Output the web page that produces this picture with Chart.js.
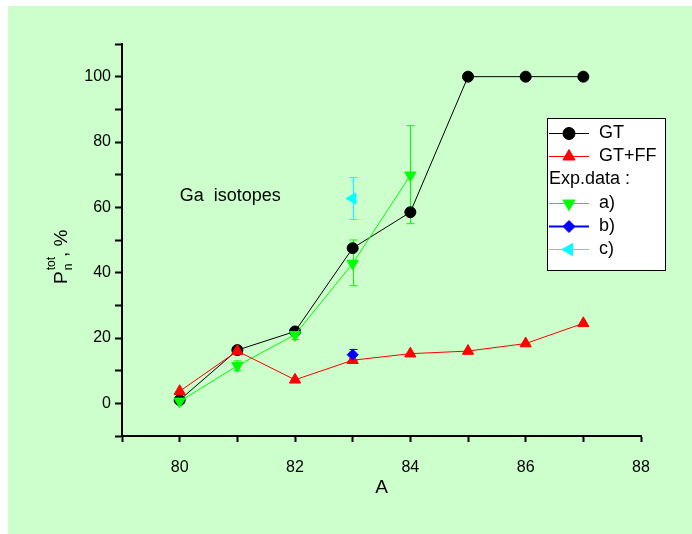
<!DOCTYPE html>
<html>
<head>
<meta charset="utf-8">
<script src="https://cdn.jsdelivr.net/npm/chart.js@4/dist/chart.umd.min.js"></script>
<style>
  body { margin: 0; background: #fff; }
  canvas { display: block; }
</style>
</head>
<body>
<canvas id="pn-chart" width="692" height="534"></canvas>
<script>
// mass numbers A
const massNumbers = [80, 81, 82, 83, 84, 85, 86, 87];
// calculations
const gtValues = [1, 16.3, 22, 47.5, 58.5, 100, 100, 100];
const gtffValues = [3.7, 16, 7.2, 13.2, 15.2, 16, 18.3, 24.5];
// experimental data a)
const expAMass = [80, 81, 82, 83, 84];
const expAValues = [0.6, 11.5, 21, 42.8, 69.8];
const expALow = [0, 10, 19.5, 36, 55];
const expAHigh = [1.2, 13, 22.5, 50, 85];
// experimental data b)
const expBMass = [83];
const expBValues = [14.9];
const expBLow = [13.2];
const expBHigh = [16.5];
// experimental data c)
const expCMass = [83];
const expCValues = [62.7];
const expCLow = [56.3];
const expCHigh = [69.1];

const xTickLabels = [80, 82, 84, 86, 88];
const yTickLabels = [0, 20, 40, 60, 80, 100];

const FONT = '"Liberation Sans", Arial, sans-serif';

function pts(xs, ys) {
    return xs.map((x, i) => ({ x: x, y: ys[i] }));
}

let ctx = document.getElementById('pn-chart');

// green page background
const background = {
    id: 'background',
    beforeDraw(chart) {
        const c = chart.ctx;
        c.save();
        c.fillStyle = '#ffffff';
        c.fillRect(0, 0, chart.width, chart.height);
        c.fillStyle = '#ccffcc';
        c.fillRect(8, 6, chart.width - 8, chart.height - 6);
        c.restore();
    }
};

// vertical error bars with caps
const errorBars = {
    id: 'errorBars',
    beforeDatasetsDraw(chart) {
        const c = chart.ctx;
        const xs = chart.scales.x, ys = chart.scales.y;
        c.save();
        chart.data.datasets.forEach(ds => {
            if (!ds.errLow) return;
            c.strokeStyle = ds.borderColor;
            c.lineWidth = 1;
            ds.data.forEach((p, i) => {
                const px = Math.round(xs.getPixelForValue(p.x)) + 0.5;
                const lo = ys.getPixelForValue(ds.errLow[i]);
                const hi = ys.getPixelForValue(ds.errHigh[i]);
                c.beginPath();
                c.moveTo(px, lo); c.lineTo(px, hi);
                c.moveTo(px - 4, lo); c.lineTo(px + 4, lo);
                c.moveTo(px - 4, hi); c.lineTo(px + 4, hi);
                c.stroke();
            });
        });
        c.restore();
    }
};

// titles, annotation and the framed legend
const extras = {
    id: 'extras',
    afterDraw(chart) {
        const c = chart.ctx;
        const xs = chart.scales.x, ys = chart.scales.y;
        const area = chart.chartArea;
        c.save();
        c.fillStyle = '#000';

        // x title
        c.font = '19px ' + FONT;
        c.textAlign = 'center';
        c.textBaseline = 'middle';
        c.fillText('A', (area.left + area.right) / 2, 488);

        // y title  P_n^tot, %
        c.save();
        c.translate(67, 284);
        c.rotate(-Math.PI / 2);
        c.textAlign = 'left';
        c.textBaseline = 'alphabetic';
        c.font = '19px ' + FONT;
        c.fillText('P', 0, 0);
        let w = c.measureText('P').width;
        c.font = '12px ' + FONT;
        c.fillText('n', w + 1, 5);
        c.fillText('tot', w + 1, -12);
        let w2 = w + 1 + c.measureText('tot').width;
        c.font = '19px ' + FONT;
        c.fillText(', %', w2, 0);
        c.restore();

        // annotation
        c.font = '18px ' + FONT;
        c.textAlign = 'left';
        c.textBaseline = 'middle';
        c.fillText('Ga  isotopes', xs.getPixelForValue(80), ys.getPixelForValue(63.5));

        // legend box
        const bx = 547, by = 118, bw = 118, bh = 152;
        c.fillStyle = '#ffffff';
        c.fillRect(bx, by, bw, bh);
        c.strokeStyle = '#000';
        c.lineWidth = 1;
        c.strokeRect(bx + 0.5, by + 0.5, bw, bh);

        const ds = chart.data.datasets;
        const rows = [
            { ds: ds[0], y: 133 },
            { ds: ds[1], y: 156 },
            { text: 'Exp.data :', y: 179 },
            { ds: ds[2], y: 203 },
            { ds: ds[3], y: 226 },
            { ds: ds[4], y: 249 }
        ];
        rows.forEach(r => {
            c.fillStyle = '#000';
            c.font = '18px ' + FONT;
            c.textAlign = 'left';
            c.textBaseline = 'middle';
            if (r.text) {
                c.fillText(r.text, bx + 2, r.y);
                return;
            }
            c.strokeStyle = r.ds.borderColor;
            c.lineWidth = r.ds.legendLineWidth || 1;
            c.beginPath();
            c.moveTo(bx + 2, r.y + 0.5);
            c.lineTo(bx + 42, r.y + 0.5);
            c.stroke();
            c.fillStyle = r.ds.pointBackgroundColor;
            c.strokeStyle = r.ds.pointBorderColor;
            c.lineWidth = 1;
            Chart.helpers.drawPoint(c, {
                pointStyle: r.ds.pointStyle,
                rotation: r.ds.pointRotation || 0,
                radius: r.ds.pointRadius + 0.5,
                borderWidth: 1
            }, bx + 22, r.y + 0.5);
            c.fillStyle = '#000';
            c.fillText(r.ds.label, bx + 52, r.y);
        });
        c.restore();
    }
};

var chart = new Chart(ctx, {
    type: 'line',
    data: {
        datasets: [{
            label: 'GT',
            data: pts(massNumbers, gtValues),
            borderColor: '#000000',
            borderWidth: 1,
            pointStyle: 'circle',
            pointRadius: 5.5,
            pointBackgroundColor: '#000000',
            pointBorderColor: '#000000',
            order: 4
        }, {
            label: 'GT+FF',
            data: pts(massNumbers, gtffValues),
            borderColor: '#ff0000',
            borderWidth: 1,
            pointStyle: 'triangle',
            pointRadius: 6.5,
            pointBackgroundColor: '#ff0000',
            pointBorderColor: '#ff0000',
            order: 2
        }, {
            label: 'a)',
            data: pts(expAMass, expAValues),
            errLow: expALow,
            errHigh: expAHigh,
            borderColor: '#00ff00',
            borderWidth: 1,
            pointStyle: 'triangle',
            pointRotation: 180,
            pointRadius: 6.5,
            pointBackgroundColor: '#00ff00',
            pointBorderColor: '#00ff00',
            order: 3
        }, {
            label: 'b)',
            data: pts(expBMass, expBValues),
            errLow: expBLow,
            errHigh: expBHigh,
            borderColor: '#0000ff',
            legendLineWidth: 2,
            borderWidth: 1,
            pointStyle: 'rectRot',
            pointRadius: 5.5,
            pointBackgroundColor: '#0000ff',
            pointBorderColor: '#0000ff',
            order: 1
        }, {
            label: 'c)',
            data: pts(expCMass, expCValues),
            errLow: expCLow,
            errHigh: expCHigh,
            borderColor: '#00ffff',
            borderWidth: 1,
            pointStyle: 'triangle',
            pointRotation: -90,
            pointRadius: 6.5,
            pointBackgroundColor: '#00ffff',
            pointBorderColor: '#00ffff',
            order: 0
        }]
    },
    options: {
        responsive: false,
        animation: false,
        devicePixelRatio: 1,
        layout: {
            padding: { left: 0, top: 44, right: 51, bottom: 0 }
        },
        elements: {
            line: { tension: 0, fill: false },
            point: { borderWidth: 1, hoverRadius: 5 }
        },
        scales: {
            x: {
                type: 'linear',
                min: 79,
                max: 88,
                afterFit(scale) { scale.height = 98; },
                border: { display: true, color: '#000', width: 2 },
                grid: {
                    drawOnChartArea: false,
                    drawTicks: true,
                    tickLength: 6,
                    tickColor: '#000',
                    tickWidth: 2
                },
                ticks: {
                    stepSize: 1,
                    autoSkip: false,
                    maxRotation: 0,
                    padding: 16,
                    color: '#000',
                    font: { family: FONT, size: 16 },
                    callback: v => xTickLabels.includes(v) ? String(v) : ''
                }
            },
            y: {
                min: -10,
                max: 110,
                afterFit(scale) { scale.width = 122; },
                border: { display: true, color: '#000', width: 2 },
                grid: {
                    drawOnChartArea: false,
                    drawTicks: true,
                    tickLength: 7,
                    tickColor: '#000',
                    tickWidth: 2
                },
                ticks: {
                    stepSize: 10,
                    autoSkip: false,
                    padding: 4,
                    color: '#000',
                    font: { family: FONT, size: 16 },
                    callback: v => yTickLabels.includes(v) ? String(v) : ''
                }
            }
        },
        plugins: {
            legend: { display: false },
            tooltip: { enabled: false }
        }
    },
    plugins: [background, errorBars, extras]
});
</script>
</body>
</html>
